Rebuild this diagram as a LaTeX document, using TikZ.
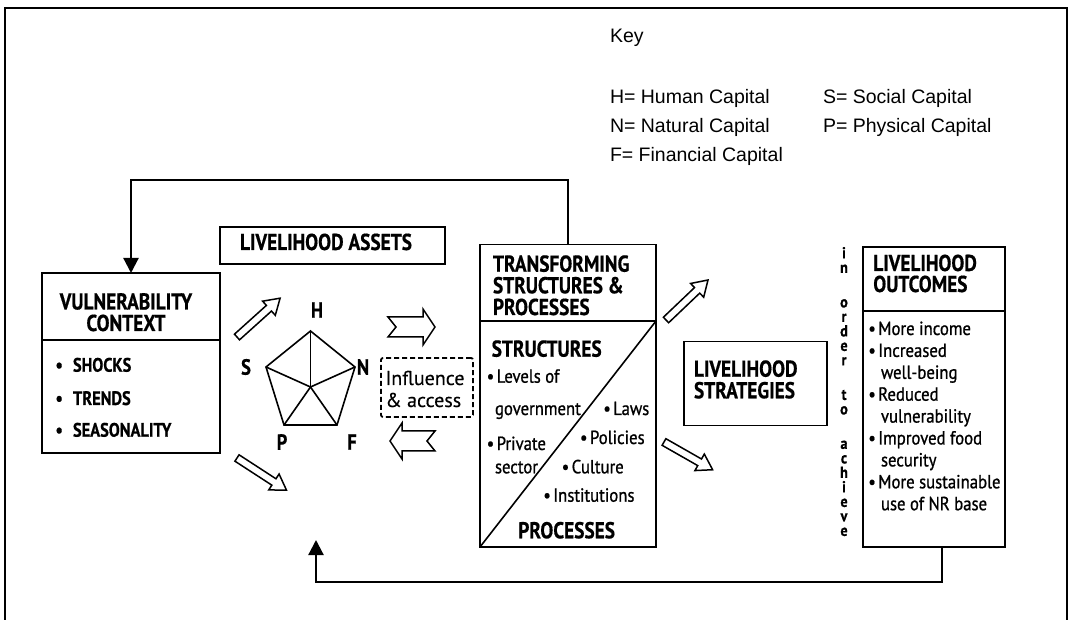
\documentclass[tikz,border=0pt]{standalone}
\usepackage{fontspec}
\setmainfont{Liberation Sans}
\newfontfamily\headf[FakeStretch=0.84,FakeBold=0.6]{PT Sans}
\newfontfamily\bodyf[FakeStretch=0.88,FakeBold=0.9]{PT Sans}
\newfontfamily\plainf[FakeBold=0.4]{PT Sans}
\usetikzlibrary{arrows.meta}
\newcommand\bul{\makebox[10pt][l]{•}}
\newcommand\holarrow[3]{%
  \begin{scope}[shift={#1},rotate=#2]
    \draw[hol] (0,-3.8) -- (#3-15,-3.8) -- (#3-15,-9.5) -- (#3,0) -- (#3-15,9.5) -- (#3-15,3.8) -- (0,3.8) -- cycle;
  \end{scope}}
\begin{document}
\begin{tikzpicture}[x=1pt,y=-1pt,
  box/.style={draw, line width=1.8pt, inner sep=0pt, outer sep=0pt},
  conn/.style={line width=2.2pt},
  hol/.style={line width=1.5pt, line join=miter},
  pent/.style={line width=1.6pt, line join=miter},
  txt/.style={inner sep=0pt, outer sep=0pt},
  hdt/.style={txt, font=\headf\bfseries\fontsize{23}{21}\selectfont},
  lst/.style={txt, font=\headf\bfseries\fontsize{19.5}{22}\selectfont},
  bdt/.style={txt, font=\bodyf\fontsize{19}{22}\selectfont},
  vt/.style={txt, font=\bodyf\bfseries\fontsize{16}{14.5}\selectfont},
  keyt/.style={txt, font=\fontsize{19.5}{22}\selectfont},
  pl/.style={txt, font=\headf\bfseries\fontsize{22}{22}\selectfont},
  tip/.style={-{Triangle[width=15pt,length=15pt]}}
]
\useasboundingbox (0,0) rectangle (1072,620);
% frame
\draw[line width=1.5pt] (5,620) -- (5,8) -- (1067,8) -- (1067,620);

% key
\node[keyt, anchor=base west] (k0) at (610,43) {Key};
\node[keyt, anchor=base west] (k1) at (610,104) {H= Human Capital};
\node[keyt, anchor=base west] (k2) at (823,104) {S= Social Capital};
\node[keyt, anchor=base west] (k3) at (610,133) {N= Natural Capital};
\node[keyt, anchor=base west] (k4) at (823,133) {P= Physical Capital};
\node[keyt, anchor=base west] (k5) at (610,162) {F= Financial Capital};

% boxes
\node[box, minimum width=178pt, minimum height=67pt] (vch) at (131,306.5) {};
\node[box, minimum width=178pt, minimum height=113pt] (vcb) at (131,396.5) {};
\node[box, minimum width=225pt, minimum height=37pt] (la) at (332.5,245.5) {};
\node[box, minimum width=176pt, minimum height=77pt] (tsph) at (568,283) {};
\node[box, minimum width=176pt, minimum height=226pt] (tspb) at (568,434) {};
\node[box, minimum width=143pt, minimum height=84pt] (ls) at (755.5,383.5) {};
\node[box, minimum width=142pt, minimum height=64pt] (loh) at (934,279) {};
\node[box, minimum width=142pt, minimum height=236pt] (lob) at (934,429) {};
\node[box, dash pattern=on 5pt off 3pt, rounded corners=2pt, minimum width=92pt, minimum height=59pt] (inf) at (427,387.5) {};

% vulnerability context
\node[hdt, anchor=base] (vct1) at (126,309.5) {VULNERABILITY};
\node[hdt, anchor=base] (vct2) at (126,331) {CONTEXT};
\node[lst, anchor=base west] (vcl1) at (55.5,371.7) {\makebox[17.5pt][l]{•}SHOCKS};
\node[lst, anchor=base west] (vcl2) at (55.5,405) {\makebox[17.5pt][l]{•}TRENDS};
\node[lst, anchor=base west] (vcl3) at (55.5,436.7) {\makebox[17.5pt][l]{•}SEASONALITY};

% livelihood assets
\node[hdt, anchor=base] (lat) at (326,250) {LIVELIHOOD ASSETS};

% pentagon
\coordinate (pc) at (310.5,387);
\coordinate (pH) at (310.5,331);
\coordinate (pN) at (355,367);
\coordinate (pF) at (337,425);
\coordinate (pP) at (284,425);
\coordinate (pS) at (266,367);
\draw[pent] (pH) -- (pN) -- (pF) -- (pP) -- (pS) -- cycle;
\foreach \v in {pH,pN,pF,pP,pS} \draw[pent] (pc) -- (\v);
\node[pl] (lH) at (317,310) {H};
\node[pl] (lS) at (246,367) {S};
\node[pl] (lN) at (363,367) {N};
\node[pl] (lP) at (282,442) {P};
\node[pl] (lF) at (352,442) {F};

% influence & access
\node[txt, align=left, font=\plainf\fontsize{20}{22}\selectfont] (inft) at (425,389) {Influence\\\& access};

% hollow arrows
\holarrow{(237,337)}{42}{58}
\holarrow{(237,458)}{-33}{59}
\holarrow{(666,320)}{43.6}{58}
\holarrow{(664,442)}{-29.7}{56}
\draw[hol] (388,317) -- (423,317) -- (423,309) -- (435,327) -- (423,345) -- (423,337) -- (388,337) -- (396,327) -- cycle;
\draw[hol] (435,431) -- (402,431) -- (402,423) -- (390,441) -- (402,459) -- (402,451) -- (435,451) -- (427,441) -- cycle;

% transforming structures
\node[hdt, anchor=base west] (tt1) at (493,271.7) {TRANSFORMING};
\node[hdt, anchor=base west] (tt2) at (493,293.3) {STRUCTURES \&};
\node[hdt, anchor=base west] (tt3) at (493,315) {PROCESSES};
\node[hdt, anchor=base west] (tst) at (491.7,356.7) {STRUCTURES};
\draw[pent] (tspb.north east) -- (tspb.south west);
\node[bdt, anchor=base west] (b1) at (486.7,382.7) {\bul Levels of};
\node[bdt, anchor=base west] (b2) at (495,415) {government};
\node[bdt, anchor=base west] (b3) at (486.7,450) {\bul Private};
\node[bdt, anchor=base west] (b4) at (495,473.3) {sector};
\node[bdt, anchor=base west] (b5) at (603.3,415) {\bul Laws};
\node[bdt, anchor=base west] (b6) at (580,444) {\bul Policies};
\node[bdt, anchor=base west] (b7) at (561.7,473.3) {\bul Culture};
\node[bdt, anchor=base west] (b8) at (543.3,501.7) {\bul Institutions};
\node[hdt, anchor=base west] (tpr) at (518.3,538.3) {PROCESSES};

% livelihood strategies
\node[hdt, anchor=base west] (ls1) at (694,376.7) {LIVELIHOOD};
\node[hdt, anchor=base west] (ls2) at (694,398.3) {STRATEGIES};

% in order to achieve
\node[vt, align=center, anchor=north] (vtext) at (844,247)
  {i\\n\\[20pt]o\\r\\d\\e\\r\\[20pt]t\\o\\[20pt]a\\c\\h\\i\\e\\v\\e};

% livelihood outcomes
\node[hdt, anchor=base west] (lo1) at (873.3,271) {LIVELIHOOD};
\node[hdt, anchor=base west] (lo2) at (873.3,292) {OUTCOMES};
\node[bdt, anchor=base west] (o1) at (868.3,335) {\bul More income};
\node[bdt, anchor=base west] (o2) at (868.3,356.9) {\bul Increased};
\node[bdt, anchor=base west] (o3) at (881,378.8) {well-being};
\node[bdt, anchor=base west] (o4) at (868.3,400.7) {\bul Reduced};
\node[bdt, anchor=base west] (o5) at (881,422.6) {vulnerability};
\node[bdt, anchor=base west] (o6) at (868.3,444.5) {\bul Improved food};
\node[bdt, anchor=base west] (o7) at (881,466.4) {security};
\node[bdt, anchor=base west] (o8) at (868.3,488.3) {\bul More sustainable};
\node[bdt, anchor=base west] (o9) at (881,510.2) {use of NR base};

% connectors
\draw[conn, tip] (tsph.north) -- (tsph.north |- 0,180) -| (vch.north);
\coordinate (loout) at (942,0);
\coordinate (botend) at (316,540);
\draw[conn, tip] (lob.south -| loout) -- (942,582) -| (botend);
\end{tikzpicture}
\end{document}
